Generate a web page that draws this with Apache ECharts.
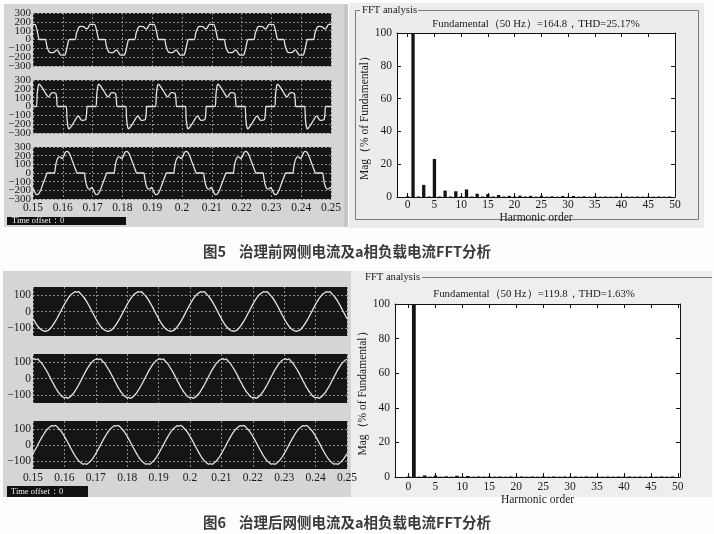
<!DOCTYPE html>
<html>
<head>
<meta charset="utf-8">
<script src="https://cdn.jsdelivr.net/npm/echarts@6/dist/echarts.min.js"></script>
<style>
html, body { margin: 0; padding: 0; background: #fdfdfd; }
#chart { width: 714px; height: 534px; }
</style>
</head>
<body>
<div id="chart"></div>
<script>
// ---- Data ---------------------------------------------------------------
// Each scope trace: one 20 ms period as [ms after 0.15 s, current (A)],
// repeated over the five periods of the 0.15–0.25 s window.
const fig5Trace1 = [[0,172],[0.7,170],[1.3,110],[1.8,30],[2.1,0],[4.1,0],[4.6,-70],[5.4,-140],[6.0,-148],[7.0,-145],[7.7,-125],[8.1,-118],[8.6,-140],[9.2,-172],[10.0,-178],[10.7,-175],[11.3,-110],[11.8,-30],[12.1,0],[14.1,0],[14.6,70],[15.4,140],[16.0,148],[17.0,145],[17.7,125],[18.1,118],[18.6,140],[19.2,172],[20,172]];
const fig5Trace2 = [[0,0],[1.1,0],[1.4,140],[1.8,240],[2.1,252],[2.7,230],[3.5,190],[4.3,145],[4.9,115],[5.3,110],[5.9,140],[6.4,158],[7.1,155],[7.7,148],[8.0,70],[8.2,0],[11.1,0],[11.4,-140],[11.8,-240],[12.1,-252],[12.7,-230],[13.5,-190],[14.3,-145],[14.9,-115],[15.3,-110],[15.9,-140],[16.4,-158],[17.1,-155],[17.7,-148],[18.0,-70],[18.2,0],[20,0]];
const fig5Trace3 = [[0,-180],[0.3,-195],[0.8,-235],[1.3,-250],[1.9,-240],[2.6,-195],[3.3,-130],[4.0,-65],[4.5,-20],[4.8,0],[7.2,0],[7.4,40],[7.8,120],[8.3,170],[8.8,185],[9.3,182],[9.8,165],[10.3,195],[10.8,235],[11.3,250],[11.9,240],[12.6,195],[13.3,130],[14.0,65],[14.5,20],[14.8,0],[17.2,0],[17.4,-40],[17.8,-120],[18.3,-170],[18.8,-185],[19.3,-182],[19.8,-165],[20,-180]];

const fig6Trace1 = [[0,-44],[1,-76],[2,-101],[3,-116],[3.5,-119],[4,-121],[4.5,-118],[5,-113],[6,-92],[7,-64],[8,-30],[9,8],[10,44],[11,76],[12,101],[13,116],[13.5,121],[14,119],[14.5,122],[15,112],[16,92],[17,64],[18,30],[19,-8],[20,-44]];
const fig6Trace2 = [[0,118],[0.5,121],[1,116],[1.5,120],[2,109],[2.5,100],[3,88],[3.5,72],[4,58],[4.5,41],[5,23],[5.5,5],[6,-15],[6.5,-32],[7,-51],[7.5,-66],[8,-82],[8.5,-93],[9,-106],[9.5,-113],[10,-118],[10.5,-115],[11,-121],[11.5,-117],[12,-109],[12.5,-99],[13,-88],[13.5,-73],[14,-57],[14.5,-41],[15,-23],[15.5,-4],[16,15],[16.5,33],[17,51],[17.5,67],[18,82],[18.5,95],[19,105],[19.5,113],[20,118]];
const fig6Trace3 = [[0,-54],[1,-19],[2,19],[3,54],[4,85],[5,107],[5.5,115],[6,121],[6.5,118],[7,122],[7.5,117],[8,107],[9,85],[10,54],[11,19],[12,-19],[13,-54],[14,-85],[15,-107],[15.5,-114],[16,-120],[16.5,-117],[17,-121],[17.5,-115],[18,-107],[19,-85],[20,-54]];

// Harmonic spectra (% of fundamental), orders 0..49
const harmonics = [0,1,2,3,4,5,6,7,8,9,10,11,12,13,14,15,16,17,18,19,20,21,22,23,24,25,26,27,28,29,30,31,32,33,34,35,36,37,38,39,40,41,42,43,44,45,46,47,48,49];
const fig5Mag = [0.4,100,0.3,7.4,0.3,23.2,0.3,3.9,0.3,3.5,0.4,4.6,0.3,2.0,0.3,1.8,0.3,1.2,0.3,0.7,0.3,0.8,0.3,0.7,0.2,0.7,0.2,0.4,0.2,0.6,0.2,0.6,0.2,0.4,0.2,0.4,0.2,0.3,0.2,0.3,0.2,0.3,0.2,0.3,0.2,0.3,0.2,0.3,0.2,0.3];
const fig6Mag = [0.3,100,0.2,0.9,0.2,0.8,0.2,0.4,0.2,0.7,0.2,0.6,0.2,0.3,0.2,0.3,0.2,0.3,0.2,0.3,0.2,0.3,0.2,0.3,0.2,0.3,0.2,0.3,0.2,0.3,0.2,0.3,0.2,0.3,0.2,0.3,0.2,0.3,0.2,0.3,0.2,0.3,0.2,0.3,0.2,0.3,0.2,0.3,0.2,0.3];

// Tick values (Fig. 5 scope labels are split over two label rows so none get dropped)
const fig5CurrentTicks = [-300,-200,-100,0,100,200,300];
const fig5LabelsOdd = [-300,-100,100,300];
const fig5LabelsEven = [-200,0,200];
const fig6CurrentTicks = [-100,0,100];
const harmonicTicks = [0,5,10,15,20,25,30,35,40,45,50];
const magTicks = [0,20,40,60,80,100];

// Texts
const fig5Title = 'Fundamental（50 Hz）=164.8，THD=25.17%';
const fig6Title = 'Fundamental（50 Hz）=119.8，THD=1.63%';
const fig5CaptionNo = '图5', fig5Caption = '治理前网侧电流及a相负载电流FFT分析';
const fig6CaptionNo = '图6', fig6Caption = '治理后网侧电流及a相负载电流FFT分析';

// ---- Build --------------------------------------------------------------
const SERIF = '"Liberation Serif","Times New Roman",serif';
const CJK = '"Noto Sans CJK SC","Noto Sans",sans-serif';
const INK = '#1a1a1a';

function tile(cycle) {
  const out = [];
  for (let k = 0; k < 5; k++) {
    for (const [ms, v] of cycle) {
      if (k > 0 && ms === 0) continue;
      out.push([+(0.15 + (k * 20 + ms) / 1000).toFixed(5), v]);
    }
  }
  return out;
}

const grids = [], xAxes = [], yAxes = [], series = [];
const minus = v => String(v).replace('-', '\u2212');

// labelSets: one or more lists of y values to print on the left side
function addScope(rect, cycle, yMin, yMax, yTicks, labelSets, showX, smooth, yFont) {
  const gi = grids.length;
  grids.push({ left: rect[0], top: rect[1], width: rect[2], height: rect[3],
    show: true, backgroundColor: '#151515', borderWidth: 0 });
  const xi = xAxes.length, yi = yAxes.length;
  const grid = { show: true, lineStyle: { color: '#8a8a8a', width: 1, type: [2, 2] } };
  xAxes.push({ gridIndex: gi, type: 'value', min: 0.15, max: 0.25, interval: 0.01,
    axisLine: { show: false }, axisTick: { show: false },
    axisLabel: { show: showX, showMinLabel: true, showMaxLabel: true,
      fontFamily: SERIF, fontSize: 11.5, color: INK, margin: 3 },
    splitLine: grid });
  labelSets.forEach((vals, k) => {
    yAxes.push({ gridIndex: gi, type: 'value', min: yMin, max: yMax, position: 'left',
      axisLine: { show: false }, axisTick: { show: false, customValues: k === 0 ? yTicks : vals },
      axisLabel: { customValues: vals, showMinLabel: true, showMaxLabel: true,
        fontFamily: SERIF, fontSize: yFont, color: INK, margin: 2, formatter: minus },
      splitLine: k === 0 ? grid : { show: false } });
  });
  series.push({ type: 'line', xAxisIndex: xi, yAxisIndex: yi, data: tile(cycle),
    showSymbol: false, smooth: smooth, silent: true,
    lineStyle: { color: '#e4e4e4', width: 1.3 } });
}

function addFFT(rect, xMin, xMax, mags, barWidth, nameGapY, nameGapX, labelMargin) {
  const gi = grids.length;
  grids.push({ left: rect[0], top: rect[1], width: rect[2], height: rect[3],
    show: true, backgroundColor: '#ffffff', borderWidth: 0 });
  const line = { show: true, onZero: false, lineStyle: { color: '#111', width: 1 } };
  const tick = { show: true, inside: true, length: 4, lineStyle: { color: '#111', width: 1 } };
  const xi = xAxes.length, yi = yAxes.length;
  const label = { fontFamily: SERIF, fontSize: 11.5, color: INK, showMinLabel: true, showMaxLabel: true };
  xAxes.push({ gridIndex: gi, type: 'value', position: 'bottom', min: xMin, max: xMax,
    axisLine: line, axisTick: Object.assign({ customValues: harmonicTicks }, tick),
    axisLabel: Object.assign({ customValues: harmonicTicks, margin: labelMargin }, label),
    splitLine: { show: false },
    name: 'Harmonic order', nameLocation: 'middle', nameGap: nameGapX,
    nameTextStyle: { fontFamily: SERIF, fontSize: 11.5, color: INK } });
  xAxes.push({ gridIndex: gi, type: 'value', position: 'top', min: xMin, max: xMax,
    axisLine: line, axisTick: Object.assign({ customValues: harmonicTicks }, tick),
    axisLabel: { show: false, customValues: harmonicTicks }, splitLine: { show: false } });
  yAxes.push({ gridIndex: gi, type: 'value', position: 'left', min: 0, max: 100,
    axisLine: line, axisTick: Object.assign({ customValues: magTicks }, tick),
    axisLabel: Object.assign({ customValues: magTicks, margin: 5 }, label),
    splitLine: { show: false },
    name: 'Mag（% of Fundamental）', nameLocation: 'middle', nameGap: nameGapY, nameRotate: 90,
    nameTextStyle: { fontFamily: SERIF, fontSize: 11.5, color: INK } });
  yAxes.push({ gridIndex: gi, type: 'value', position: 'right', min: 0, max: 100,
    axisLine: line, axisTick: Object.assign({ customValues: magTicks }, tick),
    axisLabel: { show: false, customValues: magTicks }, splitLine: { show: false } });
  series.push({ type: 'bar', xAxisIndex: xi, yAxisIndex: yi, barWidth: barWidth, silent: true,
    data: mags.map((m, i) => [harmonics[i], m]), itemStyle: { color: '#141414' } });
}

const fig5Labels = [fig5LabelsOdd, fig5LabelsEven];

// Fig. 5: before compensation
addScope([33, 13, 298, 53], fig5Trace1, -300, 300, fig5CurrentTicks, fig5Labels, false, 0.25, 11);
addScope([33, 80, 298, 53], fig5Trace2, -300, 300, fig5CurrentTicks, fig5Labels, false, 0.25, 11);
addScope([33, 147, 298, 52], fig5Trace3, -300, 300, fig5CurrentTicks, fig5Labels, true, 0.25, 11);
addFFT([397, 33, 278, 164], -2, 50, fig5Mag, 3.3, 24, 11, 2);

// Fig. 6: after compensation
addScope([33, 287, 314, 49], fig6Trace1, -150, 150, fig6CurrentTicks, [fig6CurrentTicks], false, 0.4, 11.5);
addScope([33, 354, 314, 49], fig6Trace2, -150, 150, fig6CurrentTicks, [fig6CurrentTicks], false, 0.4, 11.5);
addScope([33, 421, 314, 48], fig6Trace3, -150, 150, fig6CurrentTicks, [fig6CurrentTicks], true, 0.4, 11.5);
addFFT([395, 304, 285, 173], -2.5, 50.4, fig6Mag, 3.8, 20, 14, 4);

function rect(x, y, w, h, fill, z) {
  return { type: 'rect', z: z == null ? -10 : z, silent: true, shape: { x, y, width: w, height: h }, style: { fill } };
}
function text(x, y, str, font, fill, align, z) {
  return { type: 'text', z: z == null ? 5 : z, silent: true,
    style: { x, y, text: str, font, fill, textAlign: align || 'left', textVerticalAlign: 'middle' } };
}
function poly(points, z) {
  return { type: 'polyline', z: z == null ? -5 : z, silent: true, shape: { points },
    style: { stroke: '#7a7a7a', lineWidth: 1, fill: null } };
}

const graphic = [
  // panels, Fig. 5
  rect(4, 4, 344, 223, '#d5d5d5'),
  rect(344, 4, 4, 223, '#c6c6c6', -9),
  rect(349, 3, 355, 225, '#ececec'),
  // panels, Fig. 6
  rect(3, 271, 348, 226, '#d5d5d5'),
  rect(351, 271, 361, 226, '#eeeeee'),
  // FFT group frames
  poly([[418, 10.5], [698.5, 10.5], [698.5, 219.5], [355.5, 219.5], [355.5, 10.5], [360, 10.5]]),
  text(362, 10, 'FFT analysis', '10.6px ' + SERIF, INK),
  poly([[422, 277.5], [712, 277.5]]),
  text(365, 277, 'FFT analysis', '10.6px ' + SERIF, INK),
  // FFT titles
  text(536, 24, fig5Title, '10.8px ' + SERIF, INK, 'center'),
  text(534, 294, fig6Title, '10.8px ' + SERIF, INK, 'center'),
  // time offset bars
  rect(7, 217, 119, 8, '#111111', 1),
  text(12, 221, 'Time offset：0', '8.5px ' + SERIF, '#f0f0f0', 'left', 6),
  rect(7, 486, 81, 11, '#111111', 1),
  text(11, 491.5, 'Time offset：0', '8.5px ' + SERIF, '#f0f0f0', 'left', 6),
  // captions
  text(203, 251, fig5CaptionNo, 'bold 14.5px ' + CJK, '#3a3a3a'),
  text(239, 251, fig5Caption, 'bold 14.5px ' + CJK, '#3a3a3a'),
  text(203, 522, fig6CaptionNo, 'bold 14.5px ' + CJK, '#3a3a3a'),
  text(239, 522, fig6Caption, 'bold 14.5px ' + CJK, '#3a3a3a')
];

const chart = echarts.init(document.getElementById('chart'), null, { renderer: 'canvas' });
chart.setOption({
  animation: false,
  backgroundColor: '#fdfdfd',
  grid: grids,
  xAxis: xAxes,
  yAxis: yAxes,
  series: series,
  graphic: graphic
});
</script>
</body>
</html>
